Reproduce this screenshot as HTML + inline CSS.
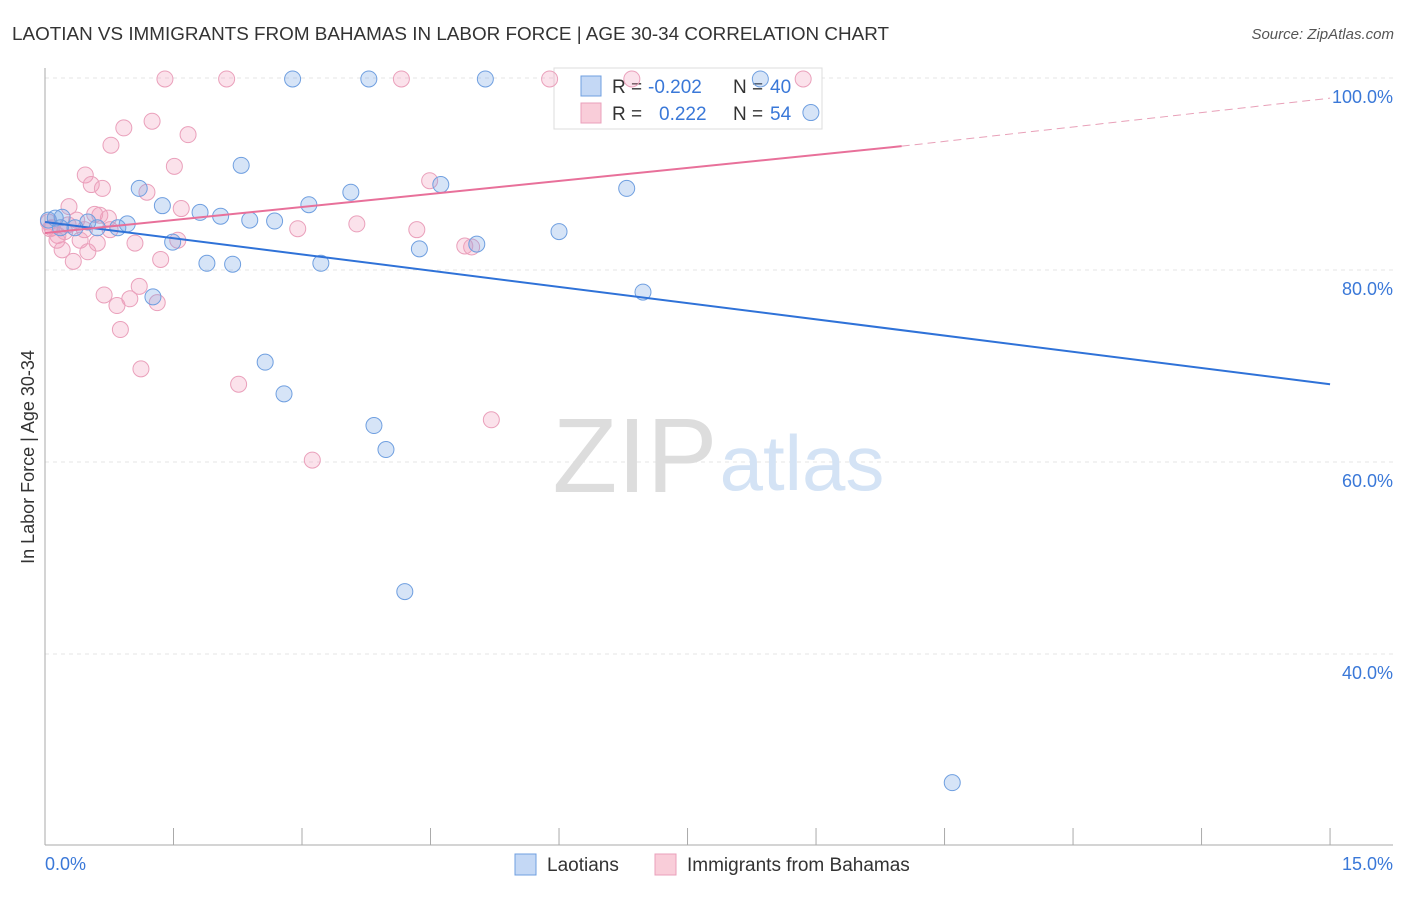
<!DOCTYPE html>
<html><head><meta charset="utf-8"><style>
body{margin:0;background:#fff;font-family:"Liberation Sans",sans-serif}
svg text{font-family:"Liberation Sans",sans-serif}
</style></head><body>
<svg id="chart" width="1406" height="892">
<text x="12" y="40" font-size="18" fill="#333" textLength="877" lengthAdjust="spacingAndGlyphs">LAOTIAN VS IMMIGRANTS FROM BAHAMAS IN LABOR FORCE | AGE 30-34 CORRELATION CHART</text>
<text x="1394" y="39" font-size="15" fill="#555" font-style="italic" text-anchor="end">Source: ZipAtlas.com</text>
<g id="grid"></g>
<g><text x="635" y="492" font-size="106" fill="#ddd" font-family="Liberation Serif" text-anchor="middle">ZIP</text><text x="802" y="490" font-size="78" fill="#d4e3f5" text-anchor="middle">atlas</text></g>
<g>
<rect x="554" y="68" width="268" height="61" fill="#fff" stroke="#ddd"/>
<rect x="581" y="76" width="20" height="20" fill="#c4d8f5" stroke="#6f9fe0"/>
<rect x="581" y="103" width="20" height="20" fill="#f9cdd9" stroke="#eaa0bb"/>
<text x="612" y="93" font-size="19" fill="#333">R =</text>
<text x="648" y="93" font-size="19" fill="#3a78d8">-0.202</text>
<text x="733" y="93" font-size="19" fill="#333">N =</text>
<text x="770" y="93" font-size="19" fill="#3a78d8">40</text>
<text x="612" y="120" font-size="19" fill="#333">R =</text>
<text x="659" y="120" font-size="19" fill="#3a78d8">0.222</text>
<text x="733" y="120" font-size="19" fill="#333">N =</text>
<text x="770" y="120" font-size="19" fill="#3a78d8">54</text>
</g>
<g id="marks"></g>
<text transform="translate(34,457) rotate(-90)" font-size="18" fill="#333" text-anchor="middle">In Labor Force | Age 30-34</text>
<text x="45" y="870" font-size="18" fill="#3a78d8">0.0%</text>
<text x="1393" y="870" font-size="18" fill="#3a78d8" text-anchor="end">15.0%</text>
<g>
<rect x="515" y="854" width="21" height="21" fill="#c4d8f5" stroke="#6f9fe0"/>
<text x="547" y="871" font-size="19" fill="#333">Laotians</text>
<rect x="655" y="854" width="21" height="21" fill="#f9cdd9" stroke="#eaa0bb"/>
<text x="687" y="871" font-size="19" fill="#333">Immigrants from Bahamas</text>
</g>
</svg>
<script>
const yTicks=[40,60,80,100];
const xTicks=[0,1.5,3,4.5,6,7.5,9,10.5,12,13.5,15];
const blueX=[0.04,0.12,0.20,0.18,0.35,0.61,0.85,0.96,1.10,1.37,1.26,1.49,1.81,1.89,2.05,2.19,2.29,2.39,2.57,2.68,2.79,2.89,3.08,3.22,3.57,3.78,3.84,3.98,4.20,4.37,4.62,5.04,5.14,6.00,6.79,6.98,8.35,8.94,10.59,0.50];
const blueY=[85.2,85.4,85.5,84.4,84.4,84.4,84.4,84.8,88.5,86.7,77.2,82.9,86.0,80.7,85.6,80.6,90.9,85.2,70.4,85.1,67.1,99.9,86.8,80.7,88.1,99.9,63.8,61.3,46.5,82.2,88.9,82.7,99.9,84.0,88.5,77.7,99.9,96.4,26.6,85.0];
const pinkX=[0.04,0.08,0.15,0.23,0.20,0.28,0.33,0.37,0.41,0.47,0.50,0.54,0.61,0.67,0.69,0.64,0.74,0.77,0.84,0.88,0.92,0.99,1.05,1.10,1.12,1.19,1.25,1.31,1.35,1.40,1.51,1.55,1.59,1.67,2.12,2.26,2.95,3.12,3.64,4.16,4.34,4.49,4.90,4.98,5.21,5.89,6.85,8.85,0.06,0.14,0.58,0.76,0.27,0.46];
const pinkY=[85.0,84.4,83.6,84.0,82.1,86.6,80.9,85.2,83.1,89.9,81.9,88.9,82.8,88.5,77.4,85.7,85.4,93.0,76.3,73.8,94.8,77.0,82.8,78.3,69.7,88.1,95.5,76.6,81.1,99.9,90.8,83.1,86.4,94.1,99.9,68.1,84.3,60.2,84.8,99.9,84.2,89.3,82.5,82.4,64.4,99.9,99.9,99.9,84.3,83.1,85.8,84.2,84.7,84.2];
const blueTrend=[85.0,68.1];
const pinkTrend=[83.85,92.9,97.9];
const pinkSolidEnd=10.0;
const NS='http://www.w3.org/2000/svg';
const sx=v=>45+v*85.67, sy=v=>1038-v*9.6;
function mk(p,t,a){const e=document.createElementNS(NS,t);for(const k in a)e.setAttribute(k,a[k]);p.appendChild(e);return e;}
const g=document.getElementById('grid');
yTicks.forEach(t=>{
 const l=mk(g,'line',{x1:45,x2:1393,y1:sy(t),y2:sy(t),stroke:'#e4e4e4','stroke-dasharray':'4,4'});
 
 
 const tx=mk(g,'text',{x:1393,y:sy(t)+25,'font-size':18,fill:'#3a78d8','text-anchor':'end'});
 tx.textContent=t.toFixed(1)+'%';
 
 
});
const ax=mk(g,'line',{x1:45,x2:1393,y1:845,y2:845,stroke:'#aaa'});


const ay=mk(g,'line',{x1:45,x2:45,y1:68,y2:845,stroke:'#aaa'});


xTicks.forEach(t=>{const l=mk(g,'line',{x1:sx(t),x2:sx(t),y1:828,y2:845,stroke:'#aaa'});
 
 });
const m=document.getElementById('marks');
pinkX.forEach((x,i)=>{const c=mk(m,'circle',{cx:sx(x),cy:sy(pinkY[i]),r:8,fill:'rgba(242,160,188,0.3)',stroke:'#eaa0bb','stroke-width':1});
 
 });
blueX.forEach((x,i)=>{const c=mk(m,'circle',{cx:sx(x),cy:sy(blueY[i]),r:8,fill:'rgba(120,165,230,0.3)',stroke:'#6f9fe0','stroke-width':1});
 
 });
const bl=mk(m,'line',{x1:sx(0),y1:sy(blueTrend[0]),x2:sx(15),y2:sy(blueTrend[1]),stroke:'#2f72d8','stroke-width':2});


const pl=mk(m,'line',{x1:sx(0),y1:sy(pinkTrend[0]),x2:sx(pinkSolidEnd),y2:sy(pinkTrend[1]),stroke:'#e8709a','stroke-width':2});


const pd=mk(m,'line',{x1:sx(pinkSolidEnd),y1:sy(pinkTrend[1]),x2:sx(15),y2:sy(pinkTrend[2]),stroke:'#e8a0b8','stroke-width':1,'stroke-dasharray':'8,5'});


</script>
</body></html>
